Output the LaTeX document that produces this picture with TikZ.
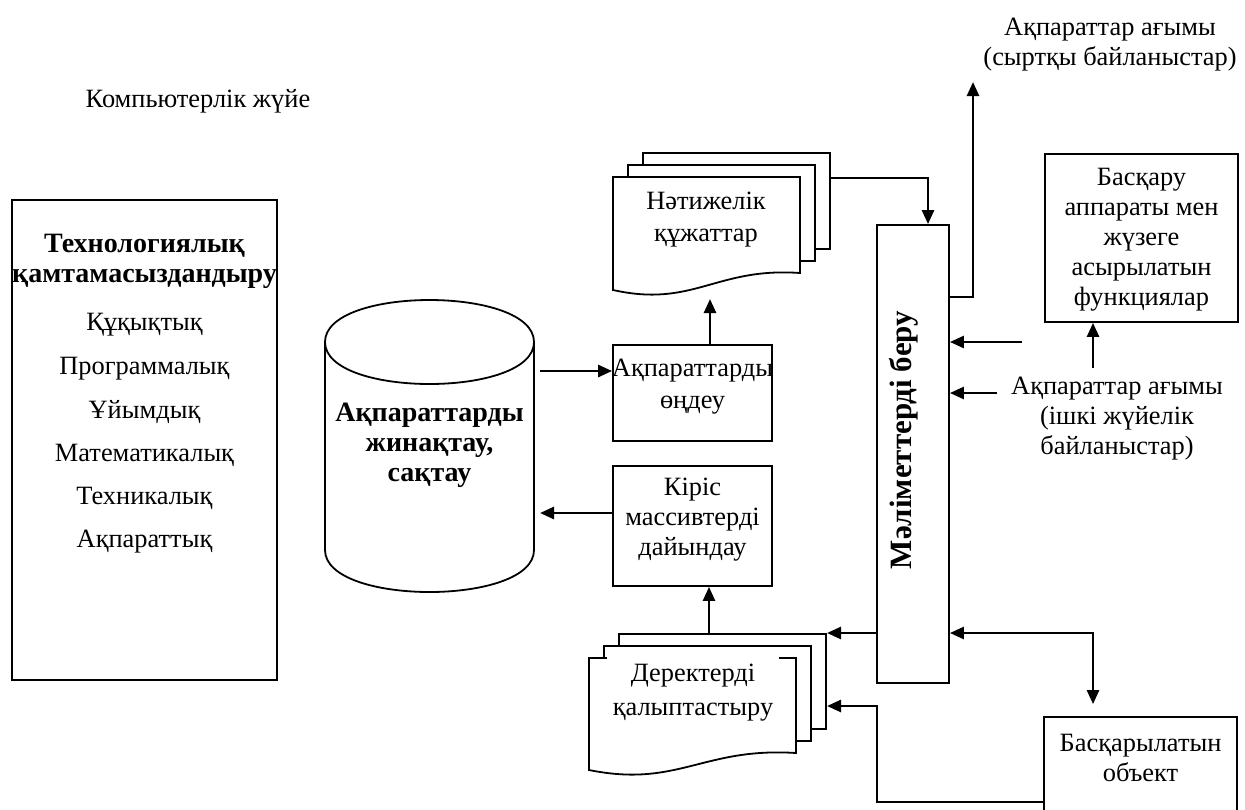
\documentclass[tikz,border=0pt]{standalone}
\usepackage{fontspec}
\setmainfont{Liberation Serif}
\usetikzlibrary{arrows.meta,calc,positioning}
\tikzset{
  txt/.style={font=\fontsize{13.2}{15}\selectfont, align=center, inner sep=2pt},
  txt-loose/.style={txt, font=\fontsize{13.2}{16}\selectfont},
  txt-bold/.style={txt, font=\fontsize{14}{15}\selectfont\bfseries},
  box/.style={draw, line width=0.9pt, inner sep=0pt},
  sheet/.style={draw, line width=0.9pt, fill=white},
  link/.style={line width=1.3pt, -{Triangle[length=7pt,width=6pt]}},
  link-both/.style={line width=1.3pt, {Triangle[length=7pt,width=6pt]}-{Triangle[length=7pt,width=6pt]}}
}
% stack of three sheets: front sheet top-left corner (#1,#2), width #3, height #4
\newcommand{\docstack}[4]{
  \draw[sheet] (#1+30,#2-24) rectangle (#1+30+#3,#2+#4-24);
  \draw[sheet] (#1+15,#2-12) rectangle (#1+15+#3,#2+#4-12);
  \draw[sheet] (#1,#2) -- (#1+#3,#2) -- (#1+#3,#2+#4)
    .. controls (#1+0.55*#3,#2+#4-6) and (#1+0.43*#3,#2+#4+35) .. (#1,#2+#4+17) -- cycle;
}

\begin{document}
\begin{tikzpicture}[x=0.5pt,y=-0.5pt]
  \useasboundingbox (0,0) rectangle (1245,809);
  \clip (0,0) rectangle (1245,809);

  \node[txt] (sys) at (198,101) {Компьютерлік жүйе};

  % Technology support
  \node[box, minimum width=132.5pt, minimum height=240pt] (tech) at (144.5,440) {};
  \node[txt-bold, font=\fontsize{14}{15}\selectfont\bfseries] (tech-title) at (144.5,261)
    {Технологиялық\\қамтамасыздандыру};
  \foreach \item [count=\i] in {Құқықтық,Программалық,Ұйымдық,Математикалық,Техникалық,Ақпараттық}
    \node[txt] at (144.5,{325+43.3*(\i-1)}) {\item};

  % Storage cylinder
  \draw[line width=0.9pt] (325,342) -- (325,550) .. controls (325,606) and (534,606) .. (534,550) -- (534,342);
  \draw[line width=0.9pt] (325,342) .. controls (325,286) and (534,286) .. (534,342)
    .. controls (534,398) and (325,398) .. cycle;
  \node[txt-bold] (store) at (429.5,445) {Ақпараттарды\\жинақтау,\\сақтау};
  \coordinate (store-out) at (540,371);
  \coordinate (store-in) at (540,513);

  % Processing and input boxes
  \node[box, minimum width=79.5pt, minimum height=48pt] (proc) at (692.5,393) {};
  \node[txt-loose, below=5.5pt of proc.north] {Ақпараттарды\\өңдеу};
  \node[box, minimum width=79.5pt, minimum height=60pt] (inp) at (692.5,526) {};
  \node[txt, below=4.5pt of inp.north] {Кіріс\\массивтерді\\дайындау};

  % Result documents
  \docstack{613}{177}{187}{96}
  \node[txt-loose] (res) at (706,220) {Нәтижелік\\құжаттар};
  \coordinate (res-out) at (830,178);
  \coordinate (res-in) at (710,299);

  % Source documents
  \docstack{589}{658}{207}{95}
  \node[txt, font=\fontsize{13.2}{17}\selectfont, fill=white, inner xsep=3pt, inner ysep=5.5pt, anchor=north]
    (dat) at (693,653) {Деректерді\\қалыптастыру};
  \coordinate (dat-top) at (709,634);
  \coordinate (dat-r1) at (827,633);
  \coordinate (dat-r2) at (827,706);

  % Data output column
  \node[box, minimum width=36pt, minimum height=229pt] (beru) at (913,454) {};
  \node[txt-bold, font=\fontsize{15.5}{16}\selectfont\bfseries, rotate=90] at (904,440) {Мәліметтерді беру};

  % Control and controlled object
  \node[box, minimum width=96.5pt, minimum height=84pt] (ctrl) at (1141.5,238) {};
  \node[txt] at ($(ctrl)+(0,2)$) {Басқару\\аппараты мен\\жүзеге\\асырылатын\\функциялар};
  \node[box, minimum width=96.5pt, minimum height=55pt] (obj) at (1140.5,772) {};
  \node[txt, below=7pt of obj.north] {Басқарылатын\\объект};

  % Flow labels
  \node[txt] (ext) at (1110,45) {Ақпараттар ағымы\\(сыртқы байланыстар)};
  \node[txt] (int) at (1117,419) {Ақпараттар ағымы\\(ішкі жүйелік\\байланыстар)};
  \coordinate (ext-bend) at (973,297);
  \coordinate (ext-up) at (973,82);
  \coordinate (in-a) at (1022,342);
  \coordinate (in-b) at (997,393);
  \coordinate (flow-up) at (1093,368);
  \coordinate (obj-bend) at (1093,633);
  \coordinate (ret-a) at (877,802);
  \coordinate (ret-b) at (877,706);

  % Connectors
  \draw[link] (res-out) -| ($(beru.north)+(15,0)$);
  \draw[link] (proc.north -| res-in) -- (res-in);
  \draw[link] (store-out) -- (store-out -| proc.west);
  \draw[link] (store-in -| inp.west) -- (store-in);
  \draw[link] (dat-top) -- (dat-top |- inp.south);
  \draw[link] (dat-r1 -| beru.west) -- (dat-r1);
  \draw[link] (ext-bend -| beru.east) -- (ext-bend) -- (ext-up);
  \draw[link] (in-a) -- (in-a -| beru.east);
  \draw[link] (in-b) -- (in-b -| beru.east);
  \draw[link] (flow-up) -- (flow-up |- ctrl.south);
  \draw[link-both, shorten >=6pt] (obj-bend -| beru.east) -- (obj-bend) -- (obj-bend |- obj.north);
  \draw[link] (ret-a -| obj.west) -- (ret-a) -- (ret-b) -- (dat-r2);
\end{tikzpicture}
\end{document}
